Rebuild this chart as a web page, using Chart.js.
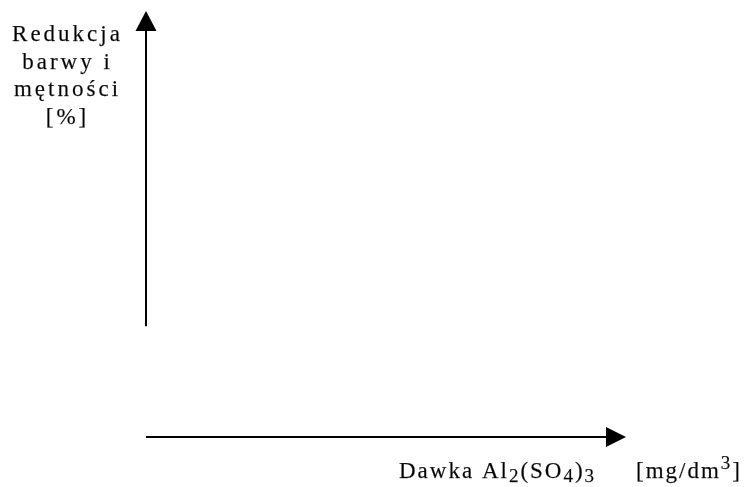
<!DOCTYPE html>
<html>
<head>
<meta charset="utf-8">
<script src="https://cdn.jsdelivr.net/npm/chart.js@4/dist/chart.umd.min.js"></script>
<style>
  html, body { margin: 0; padding: 0; background: #fff; }
  #wrap { width: 744px; height: 487px; }
</style>
</head>
<body>
<div id="wrap"><canvas id="chart"></canvas></div>
<script>
// empty chart: no measurements yet, only the axes
const seriesPoints = [];
const yTitleLines = ["Redukcja", "barwy i", "mętności", "[%]"];
// x title pieces: [text, kind] kind: n = normal, sub, sup
const xTitleParts = [["Dawka Al", "n"], ["2", "sub"], ["(SO", "n"], ["4", "sub"], [")", "n"], ["3", "sub"]];
const xUnitParts = [["[mg/dm", "n"], ["3", "sup"], ["]", "n"]];

const FONT = '"Liberation Serif", "Times New Roman", serif';

function arrowHead(ctx, tipX, tipY, dir, len, half) {
  ctx.beginPath();
  if (dir == "up") {
    ctx.moveTo(tipX, tipY);
    ctx.lineTo(tipX - half, tipY + len);
    ctx.lineTo(tipX + half, tipY + len);
  } else {
    ctx.moveTo(tipX, tipY);
    ctx.lineTo(tipX - len, tipY - half);
    ctx.lineTo(tipX - len, tipY + half);
  }
  ctx.closePath();
  ctx.fill();
}

// fill + very thin stroke so the glyphs look a bit heavier, like the scan
function text(ctx, t, x, y) {
  ctx.fillText(t, x, y);
  ctx.strokeText(t, x, y);
}

function drawRich(ctx, parts, x, base) {
  parts.forEach(([t, kind]) => {
    let dy = 0;
    ctx.font = (kind == "n" ? '23px ' : '19px ') + FONT;
    if (kind == "sub") dy = 4;
    if (kind == "sup") dy = -9;
    text(ctx, t, x, base + dy);
    x += ctx.measureText(t).width;
  });
}

const axesPlugin = {
  id: 'arrowAxes',
  afterDraw(chart, args, opts) {
    const ctx = chart.ctx;
    const a = chart.chartArea;
    const xs = chart.scales.x, ys = chart.scales.y;
    ctx.save();
    ctx.fillStyle = '#000';
    ctx.strokeStyle = '#000';
    ctx.lineWidth = 2;

    // y axis (stops short of the x axis)
    const yBottom = ys.getPixelForValue(opts.yStart);
    ctx.beginPath();
    ctx.moveTo(a.left, yBottom);
    ctx.lineTo(a.left, a.top + 19);
    ctx.stroke();
    arrowHead(ctx, a.left, a.top, "up", 20, 10.5);

    // x axis
    ctx.beginPath();
    ctx.moveTo(xs.getPixelForValue(0), a.bottom);
    ctx.lineTo(a.right - 19, a.bottom);
    ctx.stroke();
    arrowHead(ctx, a.right, a.bottom, "right", 20, 10);

    ctx.lineWidth = 0.25;
    ctx.strokeStyle = '#444';

    // y title
    ctx.font = '23px ' + FONT;
    ctx.letterSpacing = '3px';
    ctx.textBaseline = 'alphabetic';
    ctx.textAlign = 'left';
    yTitleLines.forEach((t, i) => {
      const w = ctx.measureText(t).width - 3;
      text(ctx, t, 66 - w / 2, 41 + i * 27.5);
    });

    // x title with sub/superscripts
    ctx.letterSpacing = '2px';
    drawRich(ctx, xTitleParts, 399, 478);
    drawRich(ctx, xUnitParts, 636, 478);
    ctx.restore();
  }
};

new Chart(document.getElementById('chart'), {
  type: 'scatter',
  data: {
    datasets: [{ data: seriesPoints, pointRadius: 0 }]
  },
  options: {
    responsive: true,
    maintainAspectRatio: false,
    animation: false,
    layout: { padding: { left: 146, top: 11, right: 118, bottom: 50 } },
    plugins: {
      legend: { display: false },
      tooltip: { enabled: false },
      arrowAxes: { yStart: 26 }
    },
    scales: {
      x: { display: false, min: 0, max: 100 },
      y: { display: false, min: 0, max: 100 }
    }
  },
  plugins: [axesPlugin]
});
</script>
</body>
</html>
